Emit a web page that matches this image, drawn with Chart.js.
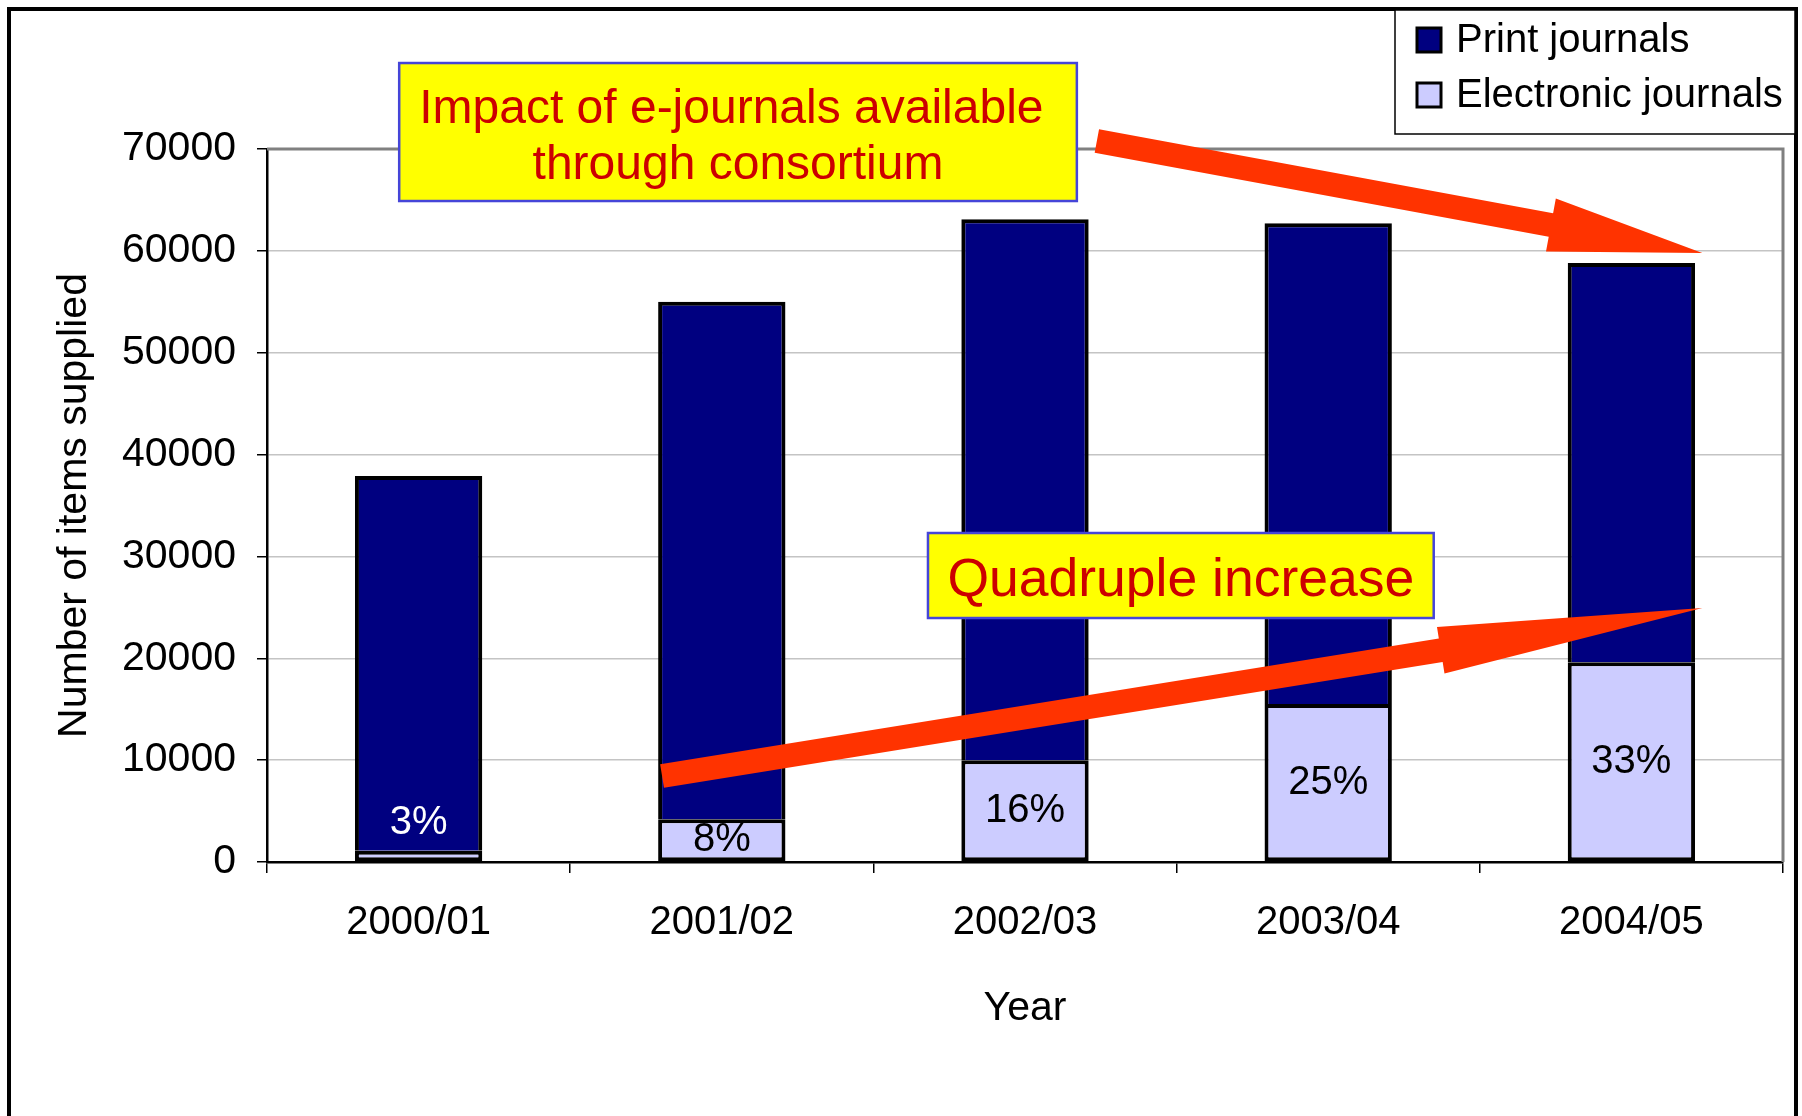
<!DOCTYPE html>
<html>
<head>
<meta charset="utf-8">
<script src="https://cdn.jsdelivr.net/npm/chart.js@4.4.1/dist/chart.umd.min.js"></script>
<style>
html,body{margin:0;padding:0;background:#fff;overflow:hidden}
canvas{display:block}
</style>
</head>
<body>
<canvas id="c" width="1802" height="1116"></canvas>
<script>
// ---------- data ----------
const categories = ['2000/01', '2001/02', '2002/03', '2003/04', '2004/05'];
const electronicJournals = [1100, 4200, 10000, 15500, 19600];
const printJournals = [36800, 50800, 53100, 47200, 39200];
const percentLabels = ['3%', '8%', '16%', '25%', '33%'];
const seriesNames = ['Electronic journals', 'Print journals'];
const yTickValues = [0, 10000, 20000, 30000, 40000, 50000, 60000, 70000];
const axisTitles = { x: 'Year', y: 'Number of items supplied' };
const calloutTexts = [['Impact of e-journals available ', 'through consortium'], ['Quadruple increase']];

// ---------- styling / annotation geometry (data-space) ----------
const FONT = "'Liberation Sans', Arial, Helvetica, sans-serif";
const COLORS = { print: '#000080', electronic: '#ccccff', arrow: '#ff3300', boxFill: '#ffff00', boxLine: '#4545d8', boxText: '#cc0000' };
const callouts = [
  { x0: -0.064, x1: 2.171, y0: 78441, y1: 64893, lines: calloutTexts[0], size: 48, gap: 56, dy: 6 },
  { x0: 1.680, x1: 3.348, y0: 32299, y1: 23954, lines: calloutTexts[1], size: 53.5, gap: 0, dy: 6 }
];
const arrows = [
  { from: [2.237, 70784], to: [4.234, 59788], shaft: 24, headLen: 154, headWidth: 54 },
  { from: [0.803, 8443], to: [4.234, 24936], shaft: 24, headLen: 265, headWidth: 47 }
];

function drawArrow(ctx, p0, p1, sw, hl, hw) {
  const dx = p1[0] - p0[0], dy = p1[1] - p0[1];
  const len = Math.hypot(dx, dy);
  const ux = dx / len, uy = dy / len;
  const nx = -uy, ny = ux;
  const bx = p1[0] - ux * hl, by = p1[1] - uy * hl;
  ctx.beginPath();
  ctx.moveTo(p0[0] + nx * sw / 2, p0[1] + ny * sw / 2);
  ctx.lineTo(bx + nx * sw / 2, by + ny * sw / 2);
  ctx.lineTo(bx + nx * hw / 2, by + ny * hw / 2);
  ctx.lineTo(p1[0], p1[1]);
  ctx.lineTo(bx - nx * hw / 2, by - ny * hw / 2);
  ctx.lineTo(bx - nx * sw / 2, by - ny * sw / 2);
  ctx.lineTo(p0[0] - nx * sw / 2, p0[1] - ny * sw / 2);
  ctx.closePath();
  ctx.fill();
}

const decorPlugin = {
  id: 'decor',
  beforeDatasetsDraw(chart) {
    const { ctx, chartArea: a } = chart;
    ctx.save();
    ctx.strokeStyle = '#808080';
    ctx.lineWidth = 3;
    ctx.beginPath();
    ctx.moveTo(a.left, a.top);
    ctx.lineTo(a.right, a.top);
    ctx.lineTo(a.right, a.bottom);
    ctx.stroke();
    ctx.restore();
  },
  afterDatasetsDraw(chart) {
    const { ctx, scales } = chart;
    const xs = scales.x, ys = scales.y;
    ctx.save();
    // percentage labels on electronic segments
    const meta = chart.getDatasetMeta(0);
    ctx.font = `40px ${FONT}`;
    ctx.textAlign = 'center';
    ctx.textBaseline = 'middle';
    meta.data.forEach((bar, i) => {
      const top = bar.y, bottom = bar.base;
      const h = bottom - top;
      if (h < 30) {
        ctx.fillStyle = '#ffffff';
        ctx.fillText(percentLabels[i], bar.x, top - 28);
      } else {
        ctx.fillStyle = '#000000';
        ctx.fillText(percentLabels[i], bar.x, (top + bottom) / 2);
      }
    });
    // arrows
    ctx.fillStyle = COLORS.arrow;
    arrows.forEach(ar => {
      const p0 = [xs.getPixelForValue(ar.from[0]), ys.getPixelForValue(ar.from[1])];
      const p1 = [xs.getPixelForValue(ar.to[0]), ys.getPixelForValue(ar.to[1])];
      drawArrow(ctx, p0, p1, ar.shaft, ar.headLen, ar.headWidth);
    });
    // callout boxes
    callouts.forEach(b => {
      const l = xs.getPixelForValue(b.x0), r = xs.getPixelForValue(b.x1);
      const t = ys.getPixelForValue(b.y0), btm = ys.getPixelForValue(b.y1);
      ctx.fillStyle = COLORS.boxFill;
      ctx.fillRect(l, t, r - l, btm - t);
      ctx.strokeStyle = COLORS.boxLine;
      ctx.lineWidth = 2.5;
      ctx.strokeRect(l, t, r - l, btm - t);
      ctx.fillStyle = COLORS.boxText;
      ctx.font = `${b.size}px ${FONT}`;
      ctx.textAlign = 'center';
      ctx.textBaseline = 'middle';
      const cx = (l + r) / 2, cy = (t + btm) / 2;
      const n = b.lines.length;
      b.lines.forEach((s, k) => {
        ctx.fillText(s, cx, cy + (k - (n - 1) / 2) * b.gap + b.dy);
      });
    });
    ctx.restore();
  },
  afterDraw(chart) {
    const { ctx } = chart;
    ctx.save();
    // outer frame
    ctx.strokeStyle = '#000';
    ctx.lineWidth = 4;
    ctx.strokeRect(9, 9, 1787, 1300);
    // legend
    const lx = 1395, ly = 10, lw = 400, lh = 124;
    ctx.fillStyle = '#fff';
    ctx.fillRect(lx, ly, lw, lh);
    ctx.strokeStyle = '#000';
    ctx.lineWidth = 1.5;
    ctx.strokeRect(lx, ly, lw, lh);
    const items = chart.data.datasets.slice().reverse();
    ctx.font = `40px ${FONT}`;
    ctx.textAlign = 'left';
    ctx.textBaseline = 'middle';
    items.forEach((ds, k) => {
      const cy = 40 + k * 55;
      ctx.fillStyle = ds.backgroundColor;
      ctx.fillRect(1417, cy - 12, 24, 24);
      ctx.strokeStyle = '#000';
      ctx.lineWidth = 3;
      ctx.strokeRect(1417, cy - 12, 24, 24);
      ctx.fillStyle = '#000';
      ctx.fillText(ds.label, 1456, cy + 1);
    });
    ctx.restore();
  }
};

new Chart(document.getElementById('c'), {
  type: 'bar',
  data: {
    labels: categories,
    datasets: [
      { label: seriesNames[0], data: electronicJournals, backgroundColor: COLORS.electronic, borderColor: '#000', borderWidth: 4, borderSkipped: false, barPercentage: 0.42, categoryPercentage: 1 },
      { label: seriesNames[1], data: printJournals, backgroundColor: COLORS.print, borderColor: '#000', borderWidth: 4, borderSkipped: 'start', barPercentage: 0.42, categoryPercentage: 1 }
    ]
  },
  options: {
    responsive: false,
    devicePixelRatio: 1,
    animation: false,
    layout: { padding: { top: 149, right: 19, bottom: 0, left: 0 } },
    plugins: { legend: { display: false }, tooltip: { enabled: false } },
    scales: {
      x: {
        stacked: true,
        offset: true,
        grid: { offset: true, drawOnChartArea: false, tickLength: 11, tickColor: '#000', lineWidth: 1.5 },
        border: { color: '#000', width: 2.5 },
        ticks: { color: '#000', font: { family: FONT, size: 40 }, padding: 26, maxRotation: 0 },
        title: { display: true, text: axisTitles.x, color: '#000', font: { family: FONT, size: 41 }, padding: { top: 0, bottom: 83 } },
        afterFit(s) { s.height = 254; }
      },
      y: {
        stacked: true,
        min: 0,
        max: 70000,
        afterBuildTicks(s) { s.ticks = yTickValues.map(v => ({ value: v })); },
        grid: { color: '#c4c4c4', lineWidth: 1.5, tickLength: 10, tickColor: '#000' },
        border: { color: '#000', width: 2.5 },
        ticks: { color: '#000', font: { family: FONT, size: 41 }, padding: 21, callback: v => String(v) },
        title: { display: true, text: axisTitles.y, color: '#000', font: { family: FONT, size: 41 }, padding: { top: 50, bottom: 0 } },
        afterFit(s) { s.width = 267; }
      }
    }
  },
  plugins: [decorPlugin]
});
</script>
</body>
</html>
